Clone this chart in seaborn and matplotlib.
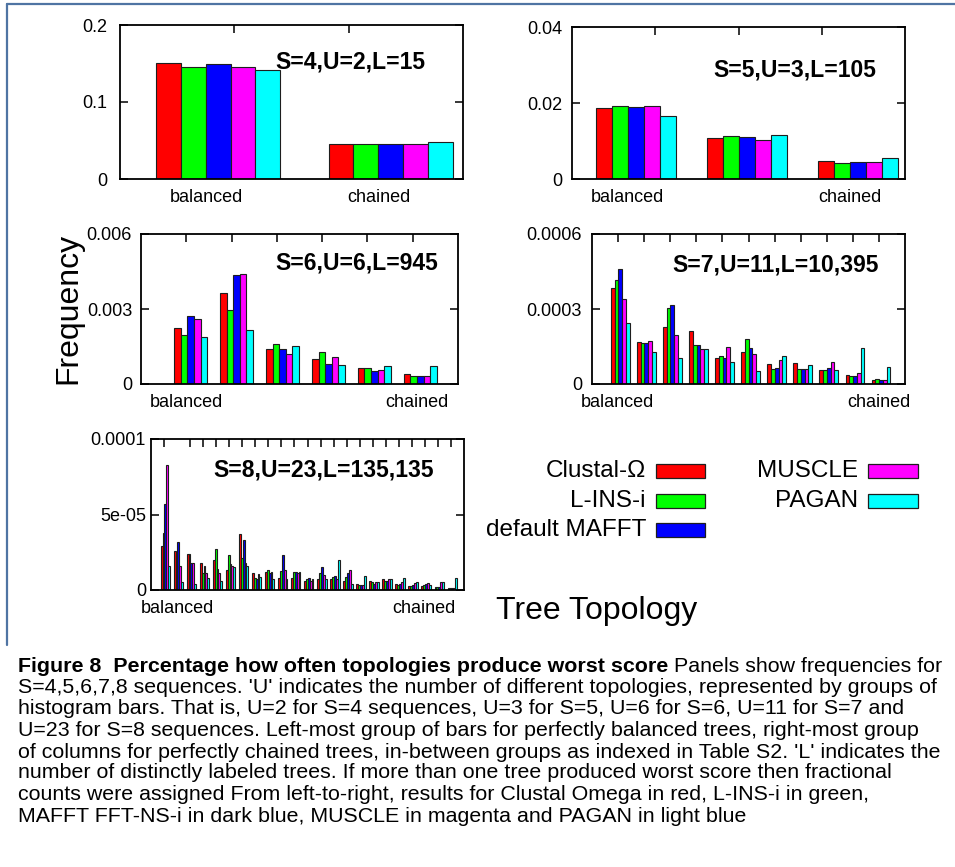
import numpy as np
import pandas as pd
import matplotlib
matplotlib.use("Agg")
import matplotlib.pyplot as plt
import seaborn as sns
from matplotlib.patches import Rectangle
from matplotlib.lines import Line2D
from matplotlib import font_manager as fm

# ---------------- data ----------------
methods = ["Clustal-\u03a9", "L-INS-i", "default MAFFT", "MUSCLE", "PAGAN"]
colors = ["#ff0000", "#00ff00", "#0000ff", "#ff00ff", "#00ffff"]

# S=4 (U=2)
clustal_s4 = [0.1506, 0.0450]
lins_s4 = [0.1460, 0.0458]
mafft_s4 = [0.1490, 0.0450]
muscle_s4 = [0.1460, 0.0458]
pagan_s4 = [0.1410, 0.0477]

# S=5 (U=3)
clustal_s5 = [0.0186, 0.0107, 0.0047]
lins_s5 = [0.0193, 0.0112, 0.0041]
mafft_s5 = [0.0189, 0.0110, 0.0044]
muscle_s5 = [0.0192, 0.0102, 0.0044]
pagan_s5 = [0.0165, 0.0115, 0.0056]

# S=6 (U=6)
clustal_s6 = [0.00224, 0.00363, 0.00141, 0.00102, 0.00065, 0.00041]
lins_s6 = [0.00197, 0.00297, 0.00161, 0.00128, 0.00065, 0.00031]
mafft_s6 = [0.00271, 0.00436, 0.00141, 0.00082, 0.00051, 0.00033]
muscle_s6 = [0.00261, 0.00440, 0.00121, 0.00109, 0.00055, 0.00031]
pagan_s6 = [0.00189, 0.00217, 0.00153, 0.00076, 0.00071, 0.00073]

# S=7 (U=11), units of 1e-4
clustal_s7 = [3.84, 1.68, 2.29, 2.14, 1.05, 1.30, 0.80, 0.84, 0.56, 0.36, 0.17]
lins_s7 = [4.16, 1.64, 3.06, 1.56, 1.12, 1.80, 0.60, 0.61, 0.55, 0.32, 0.19]
mafft_s7 = [4.60, 1.64, 3.15, 1.56, 1.05, 1.44, 0.63, 0.59, 0.63, 0.32, 0.15]
muscle_s7 = [3.41, 1.72, 1.97, 1.40, 1.48, 1.20, 0.97, 0.60, 0.89, 0.43, 0.15]
pagan_s7 = [2.43, 1.28, 1.06, 1.40, 0.89, 0.51, 1.12, 0.78, 0.56, 1.46, 0.69]

# S=8 (U=23), units of 1e-5
clustal_s8 = [2.9, 2.6, 2.4, 1.8, 2.0, 1.3, 3.7, 1.1, 1.2, 0.77, 0.77, 0.62,
              0.7, 0.7, 0.6, 0.4, 0.57, 0.7, 0.4, 0.28, 0.27, 0.2, 0.1]
lins_s8 = [3.8, 2.3, 2.4, 1.1, 2.7, 2.3, 2.1, 0.77, 1.3, 1.28, 1.2, 0.75,
           1.1, 0.84, 0.83, 0.32, 0.52, 0.6, 0.3, 0.25, 0.33, 0.2, 0.1]
mafft_s8 = [5.7, 3.2, 1.8, 1.6, 1.37, 1.7, 3.3, 0.7, 1.15, 2.3, 1.2, 0.8,
            1.55, 0.93, 1.1, 0.32, 0.4, 0.6, 0.38, 0.36, 0.42, 0.2, 0.1]
muscle_s8 = [8.3, 1.6, 1.8, 1.1, 1.1, 1.6, 1.8, 1.06, 1.2, 1.3, 1.15, 0.62,
             0.97, 0.73, 1.3, 0.33, 0.5, 0.7, 0.54, 0.48, 0.46, 0.5, 0.1]
pagan_s8 = [1.6, 0.5, 0.4, 0.77, 0.6, 1.5, 1.6, 0.88, 0.7, 0.7, 1.2, 0.7,
            0.75, 2.0, 0.4, 0.93, 0.5, 0.7, 0.77, 0.52, 0.31, 0.5, 0.77]

y_ticklabels = {
    4: ["0", "0.1", "0.2"],
    5: ["0", "0.02", "0.04"],
    6: ["0", "0.003", "0.006"],
    7: ["0", "0.0003", "0.0006"],
    8: ["0", "5e-05", "0.0001"],
}
x_ticklabels = ["balanced", "chained"]
titles = {4: "S=4,U=2,L=15", 5: "S=5,U=3,L=105", 6: "S=6,U=6,L=945",
          7: "S=7,U=11,L=10,395", 8: "S=8,U=23,L=135,135"}

# ---------------- style ----------------
sns.set_theme(style="white")
plt.rcParams["font.family"] = ["Liberation Sans", "DejaVu Sans"]
plt.rcParams["axes.edgecolor"] = "black"
plt.rcParams["axes.linewidth"] = 1.3

W, H = 955, 867
fig = plt.figure(figsize=(W / 100, H / 100), dpi=100)
fig.patch.set_facecolor("white")


def rect(x0, y0, x1, y1):
    return [x0 / W, 1 - y1 / H, (x1 - x0) / W, (y1 - y0) / H]


panels = [
    dict(S=4, vals=[clustal_s4, lins_s4, mafft_s4, muscle_s4, pagan_s4], scale=1.0,
         box=(120, 25, 463, 179), ymax=0.2, xlim=(-0.57, 1.42), lab=(-0.07, 0.93),
         tpos=(275, 62), pad=13),
    dict(S=5, vals=[clustal_s5, lins_s5, mafft_s5, muscle_s5, pagan_s5], scale=1.0,
         box=(572, 27, 905, 179), ymax=0.04, xlim=(-0.58, 2.42), lab=(-0.08, 1.92),
         tpos=(713, 70), pad=10),
    dict(S=6, vals=[clustal_s6, lins_s6, mafft_s6, muscle_s6, pagan_s6], scale=1.0,
         box=(141, 234, 458, 384), ymax=0.006, xlim=(-1.08, 5.82), lab=(-0.09, 4.92),
         tpos=(275, 263), pad=9),
    dict(S=7, vals=[clustal_s7, lins_s7, mafft_s7, muscle_s7, pagan_s7], scale=1e-4,
         box=(592, 234, 905, 384), ymax=0.0006, xlim=(-1.08, 10.92), lab=(-0.1, 9.9),
         tpos=(672, 265), pad=10),
    dict(S=8, vals=[clustal_s8, lins_s8, mafft_s8, muscle_s8, pagan_s8], scale=1e-5,
         box=(151, 439, 464, 590), ymax=0.0001, xlim=(-1.1, 22.9), lab=(0.9, 19.8),
         tpos=(213, 470), pad=5),
]

for p in panels:
    ax = fig.add_axes(rect(*p["box"]))
    rows = []
    for m, series in zip(methods, p["vals"]):
        for i, v in enumerate(series):
            rows.append({"topo": i, "method": m, "freq": v * p["scale"]})
    df = pd.DataFrame(rows)
    U = df["topo"].nunique()
    sns.barplot(data=df, x="topo", y="freq", hue="method", hue_order=methods,
                palette=colors, width=0.72, edgecolor="#1e1e1e", linewidth=0.8,
                saturation=1, errorbar=None, legend=False, ax=ax)
    ax.set_xlim(*p["xlim"])
    ax.set_ylim(0, p["ymax"])
    ax.set_yticks([0, p["ymax"] / 2, p["ymax"]])
    ax.set_yticklabels(y_ticklabels[p["S"]])
    ax.set_xticks(list(p["lab"]))
    ax.set_xticklabels(x_ticklabels)
    x0, x1 = p["xlim"]
    ax.set_xticks([x0 + (x1 - x0) * k / (U + 1) for k in range(1, U + 1)], minor=True)
    ax.tick_params(axis="x", which="major", bottom=False, top=False, length=0,
                   labelsize=13, pad=7.5, colors="black")
    ax.tick_params(axis="x", which="minor", bottom=False, top=True, direction="in",
                   length=6, width=1.1, color="black")
    ax.tick_params(axis="y", which="major", left=True, right=True, direction="in",
                   length=6, width=1.1, labelsize=13, pad=p["pad"] * 0.72,
                   colors="black")
    ax.set_xlabel("")
    ax.set_ylabel("")
    for s in ax.spines.values():
        s.set_visible(True)
        s.set_color("black")
        s.set_linewidth(1.3)
    fig.text(p["tpos"][0] / W, 1 - p["tpos"][1] / H, titles[p["S"]],
             fontsize=16.5, fontweight="bold", ha="left", va="center", color="black")

# axis titles
fig.text(68 / W, 1 - 308 / H, "Frequency", rotation=90, fontsize=23,
         ha="center", va="center", color="black")
fig.text(597 / W, 1 - 611 / H, "Tree Topology", fontsize=23,
         ha="center", va="center", color="black")

# legend (text right-aligned, swatch to the right)
leg_cols = [(646, 656, 705), (858, 868, 918)]
leg_rows = [471, 501, 530]
for i, (m, c) in enumerate(zip(methods, colors)):
    col = 0 if i < 3 else 1
    row = i if i < 3 else i - 3
    tx, sx0, sx1 = leg_cols[col]
    y = leg_rows[row]
    fig.text(tx / W, 1 - y / H, m, fontsize=17.5, ha="right", va="center", color="black")
    fig.add_artist(Rectangle((sx0 / W, 1 - (y + 7) / H), (sx1 - sx0) / W, 14 / H,
                             transform=fig.transFigure, facecolor=c,
                             edgecolor="#1e1e1e", linewidth=0.9))

# frame lines
fig.add_artist(Line2D([7 / W, 7 / W], [1 - 4 / H, 1 - 645 / H], transform=fig.transFigure,
                      color="#4f74a3", linewidth=1.6))
fig.add_artist(Line2D([7 / W, 1.0], [1 - 4 / H, 1 - 4 / H], transform=fig.transFigure,
                      color="#4f74a3", linewidth=1.6))

# ---------------- caption ----------------
names = {f.name for f in fm.fontManager.ttflist}
if "Liberation Sans Narrow" in names:
    cap_family = ["Liberation Sans Narrow", "DejaVu Sans"]
else:
    cap_family = ["Liberation Sans", "DejaVu Sans"]

cap_bold = "Figure 8  Percentage how often topologies produce worst score"
cap_lines = [
    " Panels show frequencies for",
    "S=4,5,6,7,8 sequences. 'U' indicates the number of different topologies, represented by groups of",
    "histogram bars. That is, U=2 for S=4 sequences, U=3 for S=5, U=6 for S=6, U=11 for S=7 and",
    "U=23 for S=8 sequences. Left-most group of bars for perfectly balanced trees, right-most group",
    "of columns for perfectly chained trees, in-between groups as indexed in Table S2. 'L' indicates the",
    "number of distinctly labeled trees. If more than one tree produced worst score then fractional",
    "counts were assigned From left-to-right, results for Clustal Omega in red, L-INS-i in green,",
    "MAFFT FFT-NS-i in dark blue, MUSCLE in magenta and PAGAN in light blue",
]
renderer = fig.canvas.get_renderer()
probe_size = 14
widths = []
pb = fig.text(0, 0, cap_bold, fontsize=probe_size, family=cap_family, fontweight="bold")
pn = fig.text(0, 0, cap_lines[0], fontsize=probe_size, family=cap_family)
widths.append(pb.get_window_extent(renderer).width + pn.get_window_extent(renderer).width)
pb.remove()
pn.remove()
for txt in cap_lines[1:]:
    pr = fig.text(0, 0, txt, fontsize=probe_size, family=cap_family)
    widths.append(pr.get_window_extent(renderer).width)
    pr.remove()
cap_size = probe_size * (928 / max(widths))

x_left = 18
line_y = [666, 687.5, 709, 730.5, 752, 773, 794.5, 816]
tb = fig.text(x_left / W, 1 - line_y[0] / H, cap_bold, fontsize=cap_size,
              family=cap_family, fontweight="bold", ha="left", va="center", color="black")
bb = tb.get_window_extent(renderer)
fig.text(bb.x1 / W, 1 - line_y[0] / H, cap_lines[0], fontsize=cap_size,
         family=cap_family, ha="left", va="center", color="black")
for txt, yy in zip(cap_lines[1:], line_y[1:]):
    fig.text(x_left / W, 1 - yy / H, txt, fontsize=cap_size, family=cap_family,
             ha="left", va="center", color="black")

fig.savefig("out.png", dpi=100, facecolor="white")
